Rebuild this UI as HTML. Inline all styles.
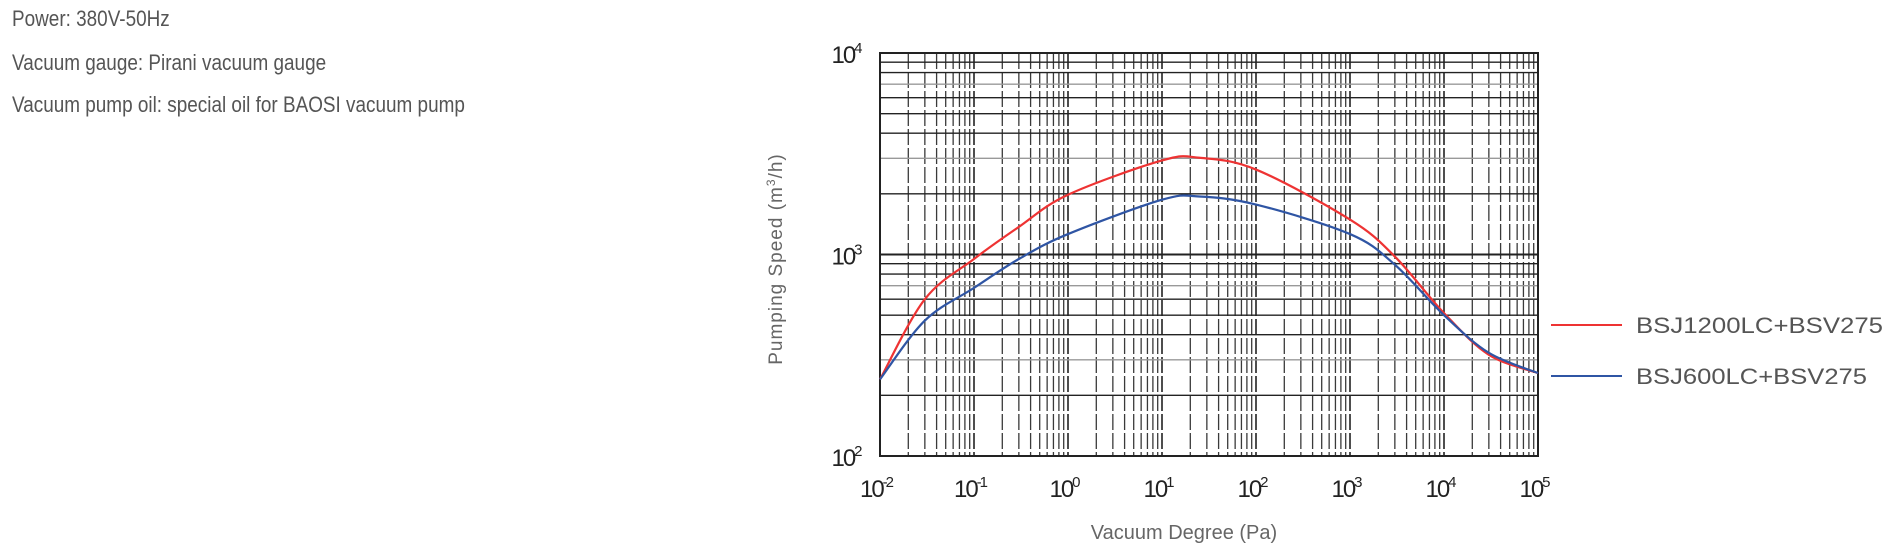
<!DOCTYPE html>
<html><head><meta charset="utf-8"><style>
body{margin:0;width:1901px;height:558px;background:#fff;overflow:hidden;font-family:"Liberation Sans",sans-serif}
.info{position:absolute;left:12px;color:#555;font-size:22px;transform:scaleX(0.86);transform-origin:left top;white-space:nowrap}
</style></head><body>
<div class="info" style="top:6px">Power: 380V-50Hz</div>
<div class="info" style="top:50px">Vacuum gauge: Pirani vacuum gauge</div>
<div class="info" style="top:92px">Vacuum pump oil: special oil for BAOSI vacuum pump</div>
<svg id="chart" width="1901" height="558" style="position:absolute;left:0;top:0" font-family="Liberation Sans, sans-serif"></svg>
<script>
const xDecades=[-2,-1,0,1,2,3,4,5];
const yDecades=[2,3,4];
const redX=[0.01,0.03,0.1,0.3,1,10,25,100,1000,3000,10000,30000,100000];
const redY=[240,600,950,1370,1980,2930,3020,2640,1490,977,512,318,258];
const blueX=[0.01,0.03,0.1,0.3,1,10,25,100,1000,3000,10000,30000,100000];
const blueY=[240,470,683,950,1263,1870,1940,1770,1263,890,500,325,258];
const seriesNames=["BSJ1200LC+BSV275","BSJ600LC+BSV275"];
const L=880,R=1538,T=53,B=456,NS="http://www.w3.org/2000/svg";
const svg=document.getElementById('chart');
function X(v){return L+(Math.log10(v)+2)/7*(R-L);}
function Y(v){return B-(Math.log10(v)-2)/2*(B-T);}
function el(t,a,p){const e=document.createElementNS(NS,t);for(const k in a)e.setAttribute(k,a[k]);(p||svg).appendChild(e);return e;}
const grid=el('g',{});


for(let d=-2;d<5;d++)for(let m=1;m<10;m++){const x=X(m*Math.pow(10,d));
 el('line',{x1:x,x2:x,y1:T,y2:B,stroke:m==1?'#222':'#3a3a3a','stroke-width':m==1?1.6:1.3,'stroke-dasharray':'16,3'},grid);}
for(let d=2;d<4;d++)for(let m=1;m<10;m++){const y=Y(m*Math.pow(10,d));
 el('line',{x1:L,x2:R,y1:y,y2:y,stroke:(m==3||m==7)?'#999':'#222','stroke-width':m==1?2:1.4},grid);}
el('rect',{x:L,y:T,width:R-L,height:B-T,fill:'none',stroke:'#222','stroke-width':2});
xDecades.forEach(d=>{const t=el('text',{x:X(Math.pow(10,d))-4,y:497,'font-size':24,'text-anchor':'middle',fill:'#222','letter-spacing':'-2'});
 
 t.textContent='10';const s=el('tspan',{dy:-10,'font-size':15},t);s.textContent=d;});
yDecades.forEach(d=>{const t=el('text',{x:846,y:Y(Math.pow(10,d))+10,'font-size':24,'text-anchor':'middle',fill:'#222','letter-spacing':'-2'});
 
 t.textContent='10';const s=el('tspan',{dy:-10,'font-size':15},t);s.textContent=d;});
const xt=el('text',{x:1184,y:539,'font-size':20,'text-anchor':'middle',fill:'#666'});
xt.textContent='Vacuum Degree (Pa)';
const yt=el('text',{x:0,y:0,'font-size':19,'text-anchor':'middle',fill:'#666',transform:'translate(782,259) rotate(-90)','letter-spacing':'1'});

yt.textContent='Pumping Speed (m';const sup=el('tspan',{dy:-7,'font-size':12},yt);sup.textContent='3';const rest=el('tspan',{dy:7},yt);rest.textContent='/h)';
function path(xs,ys){const p=xs.map((x,i)=>[X(x),Y(ys[i])]);let d='M'+p[0][0]+','+p[0][1];
 for(let i=0;i<p.length-1;i++){const p0=p[i-1]||p[i],p1=p[i],p2=p[i+1],p3=p[i+2]||p2;
 d+=' C'+(p1[0]+(p2[0]-p0[0])/6)+','+(p1[1]+(p2[1]-p0[1])/6)+' '+(p2[0]-(p3[0]-p1[0])/6)+','+(p2[1]-(p3[1]-p1[1])/6)+' '+p2[0]+','+p2[1];}return d;}
const r=el('path',{d:path(redX,redY),fill:'none',stroke:'#ee3333','stroke-width':2.2});

const b=el('path',{d:path(blueX,blueY),fill:'none',stroke:'#2f55a4','stroke-width':2.2});

[['#ee3333',325],['#2f55a4',376]].forEach((c,i)=>{const g=el('g',{});
 
 el('line',{x1:1551,x2:1622,y1:c[1],y2:c[1],stroke:c[0],'stroke-width':2},g);
 const t=el('text',{x:1636,y:c[1]+8,'font-size':22,fill:'#555',transform:'',textLength:i==0?247:231,lengthAdjust:'spacingAndGlyphs'},g);t.textContent=seriesNames[i];});
</script>
</body></html>
